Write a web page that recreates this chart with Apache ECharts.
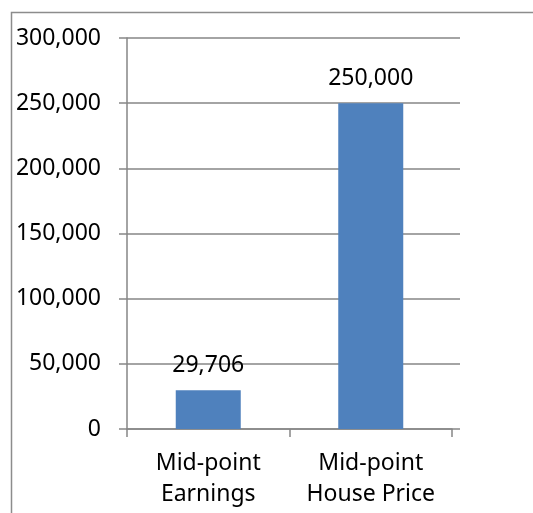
<!DOCTYPE html>
<html>
<head>
<meta charset="utf-8">
<script src="https://cdn.jsdelivr.net/npm/echarts@6/dist/echarts.min.js"></script>
<style>
  html, body { margin: 0; padding: 0; background: #fff; }
  #chart { width: 533px; height: 513px; }
</style>
</head>
<body>
<div id="chart"></div>
<script>
// data
var categories = ['Mid-point\nEarnings', 'Mid-point\nHouse Price']
var values = [29706, 250000]
var yMin = 0
var yMax = 300000
var yStep = 50000

var fontFamily = '"Noto Sans", sans-serif'
var gray = '#868686'

var myChart = echarts.init(document.getElementById('chart'))

function fmt(v) {
  return v.toLocaleString('en-US')
}

var option = {
  animation: false,
  textStyle: { fontFamily: fontFamily },
  // outer chart border (only left and top show inside the window)
  graphic: [{
    type: 'rect',
    shape: { x: 11.5, y: 12.5, width: 700, height: 700 },
    style: { fill: 'none', stroke: '#8c8c8c', lineWidth: 1.5 },
    silent: true
  }],
  grid: [
    // grid 0 only draws the gridlines, they run a bit past the x axis
    { left: 127, right: 73, top: 38, bottom: 84 },
    { left: 127, right: 81, top: 38, bottom: 84 }
  ],
  xAxis: [{
    gridIndex: 0,
    type: 'category',
    data: categories,
    show: false
  }, {
    gridIndex: 1,
    type: 'category',
    data: categories,
    axisLine: { lineStyle: { color: gray, width: 1.5 } },
    axisTick: { show: true, alignWithLabel: false, length: 8, lineStyle: { color: gray, width: 1.5 } },
    axisLabel: {
      interval: 0,
      margin: 19,
      color: '#000',
      fontSize: 23,
      lineHeight: 31,
      fontFamily: fontFamily
    }
  }],
  yAxis: [{
    gridIndex: 0,
    type: 'value',
    min: yMin,
    max: yMax,
    interval: yStep,
    axisLine: { show: false },
    axisTick: { show: false },
    axisLabel: { show: false },
    splitLine: { show: true, lineStyle: { color: gray, width: 1.5 } }
  }, {
    gridIndex: 1,
    type: 'value',
    min: yMin,
    max: yMax,
    interval: yStep,
    axisLine: { show: true, lineStyle: { color: gray, width: 1.5 } },
    axisTick: { show: true, length: 8, lineStyle: { color: gray, width: 1.5 } },
    splitLine: { show: false },
    axisLabel: {
      margin: 26,
      color: '#000',
      fontSize: 23,
      fontFamily: fontFamily,
      formatter: function (v) { return fmt(v) }
    }
  }],
  series: [{
    type: 'bar',
    xAxisIndex: 1,
    yAxisIndex: 1,
    data: values,
    barWidth: 65,
    itemStyle: { color: '#4f81bd' },
    label: {
      show: true,
      position: 'top',
      distance: 13,
      color: '#000',
      fontSize: 23,
      fontFamily: fontFamily,
      formatter: function (p) { return fmt(p.value) }
    }
  }]
}

myChart.setOption(option)
</script>
</body>
</html>
